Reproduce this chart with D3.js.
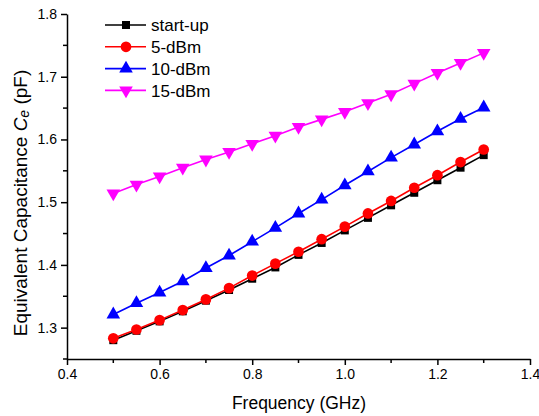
<!DOCTYPE html>
<html>
<head>
<meta charset="utf-8">
<script src="https://cdn.jsdelivr.net/npm/d3@7/dist/d3.min.js"></script>
<style>
html,body{margin:0;padding:0;background:#fff;}
svg text{font-family:"Liberation Sans",Arial,sans-serif;}
</style>
</head>
<body>
<svg id="chart" width="539" height="416"></svg>
<script>
const freq = [0.5,0.55,0.6,0.65,0.7,0.75,0.8,0.85,0.9,0.95,1.0,1.05,1.1,1.15,1.2,1.25,1.3];
const startUp = [1.280,1.295,1.310,1.326,1.343,1.360,1.378,1.396,1.416,1.435,1.455,1.475,1.495,1.515,1.535,1.555,1.575];
const dBm5 = [1.283,1.297,1.312,1.328,1.345,1.363,1.383,1.402,1.421,1.441,1.461,1.482,1.502,1.523,1.543,1.564,1.584];
const dBm10 = [1.321,1.339,1.356,1.374,1.395,1.415,1.437,1.459,1.482,1.504,1.527,1.549,1.571,1.592,1.613,1.633,1.651];
const dBm15 = [1.514,1.528,1.541,1.555,1.568,1.580,1.593,1.606,1.620,1.632,1.644,1.658,1.672,1.689,1.706,1.722,1.738];
const seriesNames = ["start-up","5-dBm","10-dBm","15-dBm"];
const xTicks = [0.4,0.6,0.8,1.0,1.2,1.4];
const yTicks = [1.3,1.4,1.5,1.6,1.7,1.8];

const colors = ["#000000","#ff0000","#0000ff","#ff00ff"];
const symbols = [d3.symbolSquare, d3.symbolCircle, d3.symbolTriangle, d3.symbolTriangle];
const symSizes = [64, 90, 80, 80];
const rotations = [0,0,0,180];
const data = [startUp, dBm5, dBm10, dBm15];

const svg = d3.select("#chart");
const L = 67, R = 530, T = 14, B = 359;
const x = d3.scaleLinear().domain([0.4,1.4]).range([L,R]);
const y = d3.scaleLinear().domain([1.25,1.8]).range([B,T]);

// minor ticks
const xMinor = d3.range(0.5,1.4,0.2);
const yMinor = d3.range(1.25,1.8,0.1);

const gx = svg.append("g").attr("transform",`translate(0,${B})`);
gx.call(d3.axisBottom(x).tickValues(xTicks).tickFormat(d3.format(".1f")).tickSize(6).tickPadding(4).tickSizeOuter(0));
gx.append("g").selectAll("line").data(xMinor).join("line")
  .attr("x1",d=>x(d)).attr("x2",d=>x(d)).attr("y1",0).attr("y2",4).attr("stroke","#000").attr("stroke-width",1.5);

const gy = svg.append("g").attr("transform",`translate(${L},0)`);
gy.call(d3.axisLeft(y).tickValues(yTicks).tickFormat(d3.format(".1f")).tickSize(6).tickPadding(4).tickSizeOuter(0));
gy.append("g").selectAll("line").data(yMinor).join("line")
  .attr("y1",d=>y(d)).attr("y2",d=>y(d)).attr("x1",0).attr("x2",-4).attr("stroke","#000").attr("stroke-width",1.5);

[gx,gy].forEach(g=>{
  g.select(".domain").attr("stroke","#000").attr("stroke-width",1.5);
  g.selectAll(".tick line").attr("stroke","#000").attr("stroke-width",1.5);
  g.selectAll(".tick text").attr("font-size",14).attr("fill","#000").attr("font-family","Liberation Sans, Arial, sans-serif");
});

// lines & markers
const line = d3.line().x((d,i)=>x(freq[i])).y(d=>y(d));
data.forEach((s,k)=>{
  svg.append("path").datum(s).attr("d",line).attr("fill","none").attr("stroke",colors[k]).attr("stroke-width",1.6);
});
data.forEach((s,k)=>{
  svg.append("g").selectAll("path").data(s).join("path")
    .attr("d",d3.symbol().type(symbols[k]).size(symSizes[k]))
    .attr("transform",(d,i)=>`translate(${x(freq[i])},${y(d)}) rotate(${rotations[k]})`)
    .attr("fill",colors[k]);
});

// legend
const lg = svg.append("g");
seriesNames.forEach((n,k)=>{
  const yy = 25 + k*21.8;
  lg.append("line").attr("x1",105).attr("x2",146).attr("y1",yy).attr("y2",yy).attr("stroke",colors[k]).attr("stroke-width",1.6);
  lg.append("path").attr("d",d3.symbol().type(symbols[k]).size(symSizes[k]))
    .attr("transform",`translate(126,${yy}) rotate(${rotations[k]})`).attr("fill",colors[k]);
  lg.append("text").attr("x",151).attr("y",yy).attr("dy","0.36em").attr("font-size",17).text(n);
});

// axis titles
svg.append("text").attr("x",299).attr("y",409).attr("text-anchor","middle").attr("font-size",17.5).text("Frequency (GHz)");
const yt = svg.append("text").attr("transform",`translate(27,203) rotate(-90)`).attr("text-anchor","middle").attr("font-size",19);
yt.append("tspan").text("Equivalent Capacitance ");
yt.append("tspan").attr("font-style","italic").text("C");
yt.append("tspan").attr("font-style","italic").attr("font-size",14).attr("dy",2).text("e");
yt.append("tspan").attr("dy",-2).text(" (pF)");
</script>
</body>
</html>
